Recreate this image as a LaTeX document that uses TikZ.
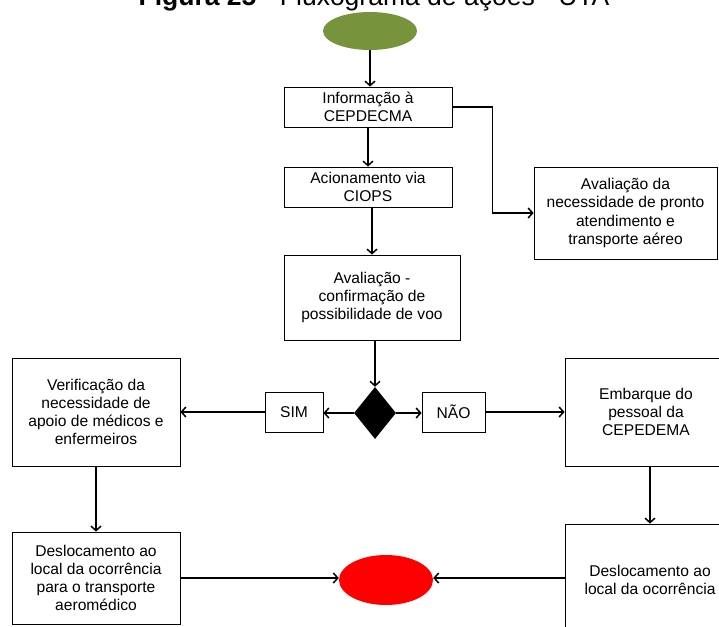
\documentclass[tikz,border=0pt]{standalone}
\usepackage{fontspec}
\setmainfont{Liberation Sans}
\usetikzlibrary{shapes.geometric,arrows.meta}
\definecolor{olivegreen}{HTML}{77933C}
\tikzset{
  box/.style={draw=black, line width=0.8pt, align=center, inner sep=1pt,
    font=\fontsize{15.6}{18.2}\selectfont},
  arr/.style={line width=1.6pt, -{Straight Barb[length=4.5pt,width=10pt,line width=1.5pt]}},
}
\begin{document}
\begin{tikzpicture}[x=1pt,y=-1pt]
\useasboundingbox (0,0) rectangle (719,626);
% title (cut at top, as in the reference)
\node[anchor=base, inner sep=0, font=\fontsize{26.5}{30}\selectfont] (title) at (374,6) {\textbf{Figura 25} - Fluxograma de ações - UTA};
% nodes
\node[ellipse, fill=olivegreen, minimum width=94, minimum height=38, inner sep=0] (start) at (370,31) {};
\node[box, minimum width=168, minimum height=40] (b1) at (368,107) {Informação à\\CEPDECMA};
\node[box, minimum width=168, minimum height=40] (b2) at (368,187) {Acionamento via\\CIOPS};
\node[box, minimum width=183, minimum height=92] (br) at (625.5,213) {Avaliação da\\necessidade de pronto\\atendimento e\\transporte aéreo};
\node[box, minimum width=176, minimum height=85] (b3) at (372,297.5) {Avaliação -\\confirmação de\\possibilidade de voo};
\node[diamond, fill=black, minimum width=42, minimum height=52, inner sep=0] (d) at (375,413) {};
\node[box, minimum width=58, minimum height=40] (sim) at (294,412) {SIM};
\node[box, minimum width=63, minimum height=40] (nao) at (453.5,412) {NÃO};
\node[box, minimum width=168, minimum height=108] (left) at (96,412) {Verificação da\\necessidade de\\apoio de médicos e\\enfermeiros};
\node[box, minimum width=162, minimum height=108] (right) at (646,412) {Embarque do\\pessoal da\\CEPEDEMA};
\node[box, minimum width=168, minimum height=92] (ll) at (96,578) {Deslocamento ao\\local da ocorrência\\para o transporte\\aeromédico};
\node[box, minimum width=170, minimum height=112] (lr) at (650,580) {Deslocamento ao\\local da ocorrência};
\node[ellipse, fill=red, minimum width=94, minimum height=50, inner sep=0] (end) at (386,580) {};
% connectors
\draw[arr] (start.south) -- (start.south |- b1.north);
\draw[arr] (b1.south) -- (b2.north);
\draw[arr] (b1.east) -- ++(40,0) |- (br.west);
\draw[arr] (b3.north |- b2.south) -- (b3.north);
\draw[arr] (d.north |- b3.south) -- (d.north);
\draw[arr] (d.west) -- (d.west -| sim.east);
\draw[arr] (sim.west) -- (sim.west -| left.east);
\draw[arr] (d.east) -- (d.east -| nao.west);
\draw[arr] (nao.east) -- (nao.east -| right.west);
\draw[arr] (left.south) -- (left.south |- ll.north);
\draw[arr] (lr.north |- right.south) -- (lr.north);
\draw[arr] (ll.east) -- (ll.east -| end.west);
\draw[arr] (ll.east -| lr.west) -- (ll.east -| end.east);
\end{tikzpicture}
\end{document}
